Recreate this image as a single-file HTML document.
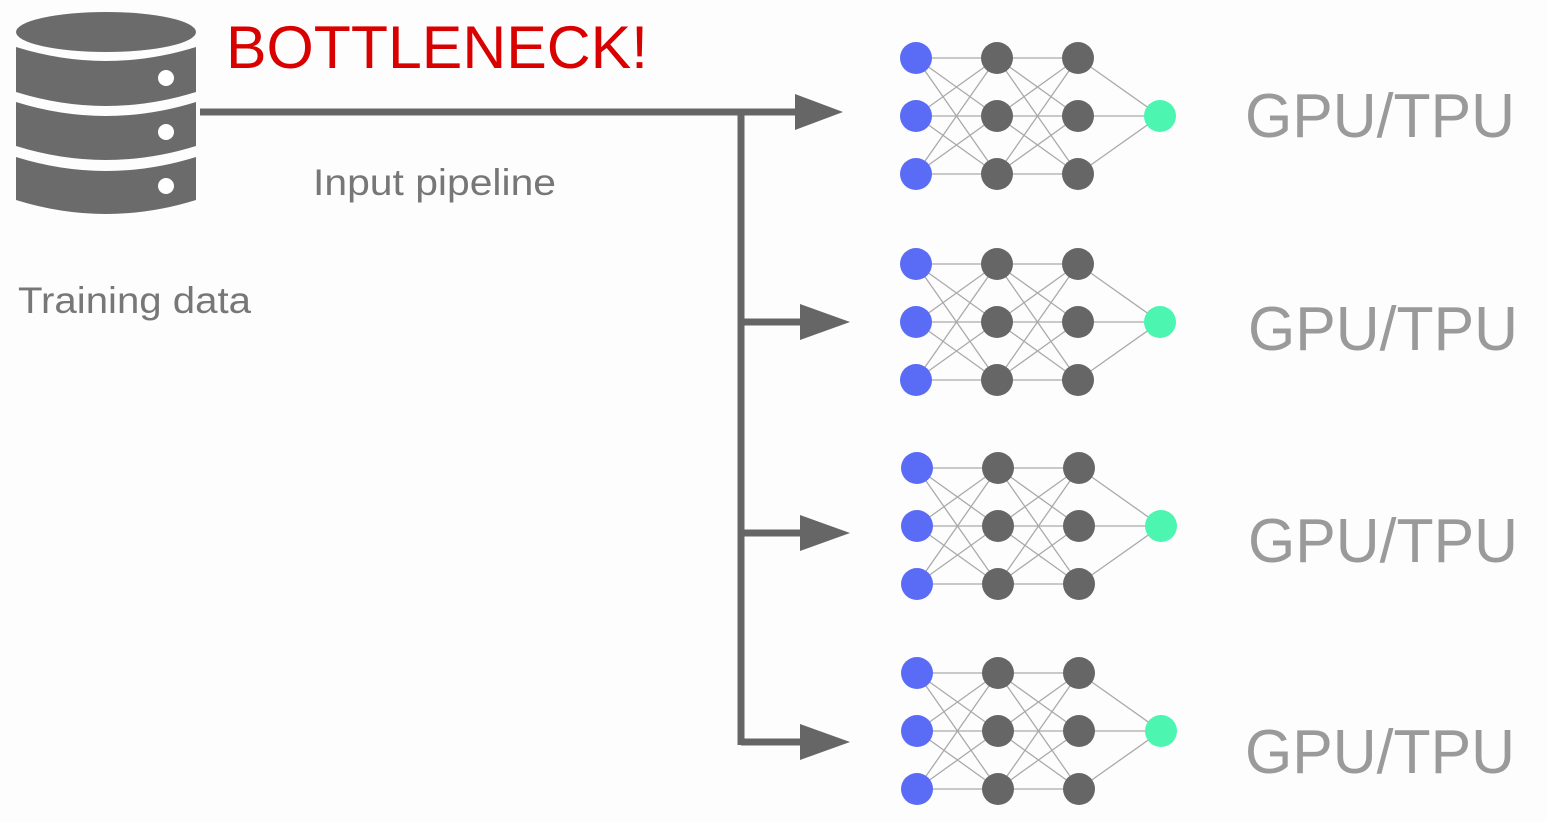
<!DOCTYPE html>
<html><head><style>
body{margin:0;width:1547px;height:817px;background:#fdfdfd;overflow:hidden;font-family:"Liberation Sans",sans-serif;}
</style></head><body>
<svg width="1547" height="817" viewBox="0 0 1547 817" xmlns="http://www.w3.org/2000/svg">
<defs>
<g id="net">
 <g stroke="#aaa" stroke-width="1.3" fill="none">
  <path d="M916,-58L997,-58M916,-58L997,0M916,-58L997,58M916,0L997,-58M916,0L997,0M916,0L997,58M916,58L997,-58M916,58L997,0M916,58L997,58"/>
  <path d="M997,-58L1078,-58M997,-58L1078,0M997,-58L1078,58M997,0L1078,-58M997,0L1078,0M997,0L1078,58M997,58L1078,-58M997,58L1078,0M997,58L1078,58"/>
  <path d="M1078,-58L1160,0M1078,0L1160,0M1078,58L1160,0"/>
 </g>
 <g fill="#5a6cf5"><circle cx="916" cy="-58" r="16"/><circle cx="916" cy="0" r="16"/><circle cx="916" cy="58" r="16"/></g>
 <g fill="#666"><circle cx="997" cy="-58" r="16"/><circle cx="997" cy="0" r="16"/><circle cx="997" cy="58" r="16"/><circle cx="1078" cy="-58" r="16"/><circle cx="1078" cy="0" r="16"/><circle cx="1078" cy="58" r="16"/></g>
 <circle cx="1160" cy="0" r="16" fill="#4cf5b0"/>
</g>
</defs>
<g fill="#6b6b6b">
 <ellipse cx="106" cy="32" rx="90" ry="20"/>
 <path d="M16,47 Q106,75 196,47 L196,92 Q106,120 16,92Z"/>
 <path d="M16,102 Q106,130 196,102 L196,146 Q106,174 16,146Z"/>
 <path d="M16,157 Q106,185 196,157 L196,200 Q106,228 16,200Z"/>
</g>
<g fill="#fff"><circle cx="166" cy="78" r="8"/><circle cx="166" cy="132" r="8"/><circle cx="166" cy="186" r="8"/></g>
<text x="226" y="68" font-size="60" fill="#d90000" textLength="422" lengthAdjust="spacingAndGlyphs">BOTTLENECK!</text>
<text x="313" y="195" font-size="37" fill="#777" textLength="243" lengthAdjust="spacingAndGlyphs">Input pipeline</text>
<text x="18" y="313" font-size="37" fill="#777" textLength="233" lengthAdjust="spacingAndGlyphs">Training data</text>
<g stroke="#666" stroke-width="7" fill="none">
 <path d="M200,112 L800,112"/>
 <path d="M741,112 L741,745"/>
 <path d="M741,322 L805,322M741,533 L805,533M741,742 L805,742"/>
</g>
<g fill="#666">
 <path d="M795,94 L843,112 L795,130Z"/>
 <path d="M800,304 L850,322 L800,340Z"/>
 <path d="M800,515 L850,533 L800,551Z"/>
 <path d="M800,724 L850,742 L800,760Z"/>
</g>
<use href="#net" transform="translate(0,116)"/>
<use href="#net" transform="translate(0,322)"/>
<use href="#net" transform="translate(1,526)"/>
<use href="#net" transform="translate(1,731)"/>
<g font-size="62" fill="#9a9a9a">
<text x="1245" y="137" textLength="270" lengthAdjust="spacingAndGlyphs">GPU/TPU</text>
<text x="1248" y="350" textLength="270" lengthAdjust="spacingAndGlyphs">GPU/TPU</text>
<text x="1248" y="562" textLength="270" lengthAdjust="spacingAndGlyphs">GPU/TPU</text>
<text x="1245" y="773" textLength="270" lengthAdjust="spacingAndGlyphs">GPU/TPU</text>
</g>
</svg>
</body></html>
